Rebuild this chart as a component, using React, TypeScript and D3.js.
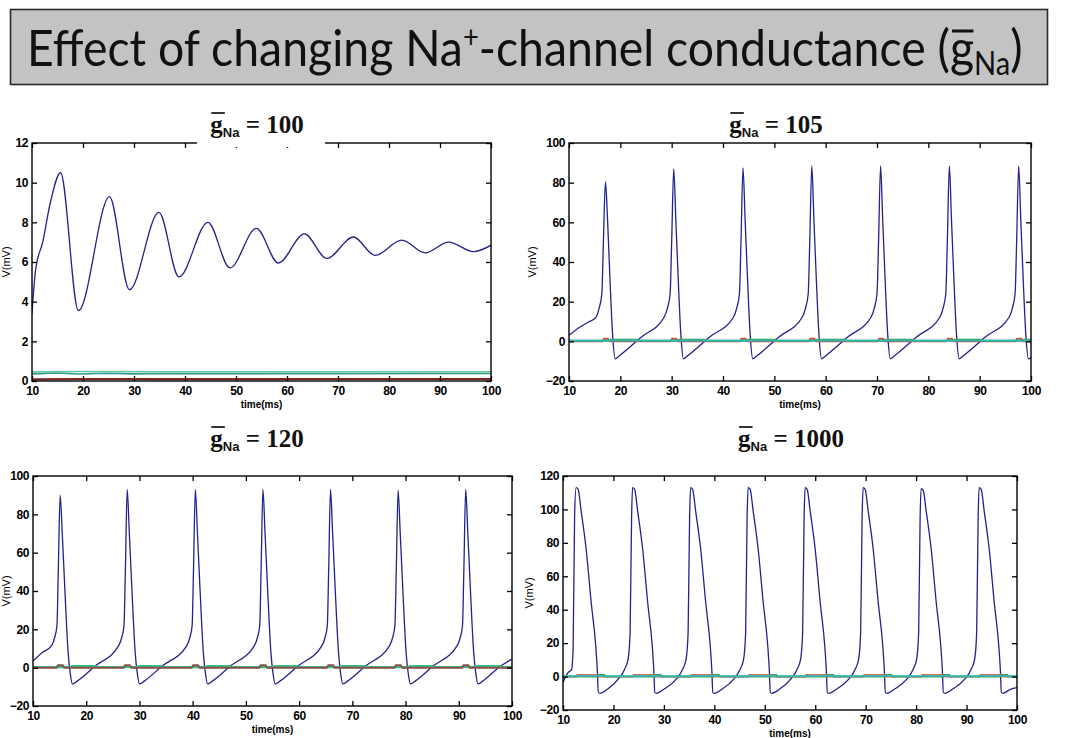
import { useEffect, useRef } from 'react';
import * as d3 from 'd3';

type Pt = [number, number];

// axis ticks
const timeTicks = [10, 20, 30, 40, 50, 60, 70, 80, 90, 100];
const vTicksLow = [0, 2, 4, 6, 8, 10, 12];
const vTicksMid = [-20, 0, 20, 40, 60, 80, 100];
const vTicksHigh = [-20, 0, 20, 40, 60, 80, 100, 120];

const gNaValues = ['100', '105', '120', '1000'];

// membrane potential: [time (ms), V (mV)]
const v100: Pt[] = [
  [10, 3.4], [10.7, 5.6], [12.1, 7.0], [13.6, 9.0], [15.6, 10.5], [19.1, 3.55],
  [25.2, 9.3], [29.1, 4.6], [34.9, 8.5], [38.8, 5.25], [44.5, 8.0], [48.8, 5.7],
  [54.0, 7.7], [58.3, 5.95], [63.4, 7.42], [67.8, 6.18], [73.0, 7.26], [77.3, 6.33],
  [82.5, 7.1], [87.1, 6.46], [91.7, 7.0], [96.6, 6.52], [100, 6.85],
];

const v105: Pt[] = [
  [10, 3], [12, 7], [14, 10],
  [15.2, 12], [15.9, 17], [16.4, 24], [16.7, 50], [17.1, 80.5], [17.5, 62], [18.0, 30], [18.5, 3], [19.0, -8.8], [19.7, -7.5], [24.1, 2.2],
  [28.5, 12], [29.2, 17], [29.7, 24], [30.0, 50], [30.4, 87], [30.8, 62], [31.3, 30], [31.8, 3], [32.3, -8.8], [33.0, -7.5], [37.4, 2.2],
  [42.0, 12], [42.7, 17], [43.2, 24], [43.5, 50], [43.9, 87.5], [44.3, 62], [44.8, 30], [45.3, 3], [45.8, -8.8], [46.5, -7.5], [50.9, 2.2],
  [55.4, 12], [56.1, 17], [56.6, 24], [56.9, 50], [57.3, 88.5], [57.7, 62], [58.2, 30], [58.7, 3], [59.2, -8.8], [59.9, -7.5], [64.3, 2.2],
  [68.8, 12], [69.5, 17], [70.0, 24], [70.3, 50], [70.7, 88.5], [71.1, 62], [71.6, 30], [72.1, 3], [72.6, -8.8], [73.3, -7.5], [77.7, 2.2],
  [82.2, 12], [82.9, 17], [83.4, 24], [83.7, 50], [84.1, 88.5], [84.5, 62], [85.0, 30], [85.5, 3], [86.0, -8.8], [86.7, -7.5], [91.1, 2.2],
  [95.7, 12], [96.4, 17], [96.9, 24], [97.2, 50], [97.6, 88.5], [98.0, 62], [98.5, 30], [99.0, 3], [99.5, -8.8], [100, -8.3],
];

const v120: Pt[] = [
  [10, 3.4], [11.8, 8.0],
  [13.5, 11.5], [14.1, 16], [14.5, 22], [14.75, 50], [15.1, 90], [15.5, 70], [16.0, 40], [16.6, 8], [17.0, -3], [17.4, -8.5], [18.3, -7], [21.6, 0.7],
  [26.1, 11.5], [26.7, 16], [27.1, 22], [27.35, 50], [27.7, 93], [28.1, 70], [28.6, 40], [29.2, 8], [29.6, -3], [30.0, -8.5], [30.9, -7], [34.2, 0.7],
  [38.9, 11.5], [39.5, 16], [39.9, 22], [40.15, 50], [40.5, 93], [40.9, 70], [41.4, 40], [42.0, 8], [42.4, -3], [42.8, -8.5], [43.7, -7], [47.0, 0.7],
  [51.6, 11.5], [52.2, 16], [52.6, 22], [52.85, 50], [53.2, 93], [53.6, 70], [54.1, 40], [54.7, 8], [55.1, -3], [55.5, -8.5], [56.4, -7], [59.7, 0.7],
  [64.3, 11.5], [64.9, 16], [65.3, 22], [65.55, 50], [65.9, 93], [66.3, 70], [66.8, 40], [67.4, 8], [67.8, -3], [68.2, -8.5], [69.1, -7], [72.4, 0.7],
  [77.0, 11.5], [77.6, 16], [78.0, 22], [78.25, 50], [78.6, 92.5], [79.0, 70], [79.5, 40], [80.1, 8], [80.5, -3], [80.9, -8.5], [81.8, -7], [85.1, 0.7],
  [89.7, 11.5], [90.3, 16], [90.7, 22], [90.95, 50], [91.3, 93], [91.7, 70], [92.2, 40], [92.8, 8], [93.2, -3], [93.6, -8.5], [94.5, -7], [97.8, 0.7], [100, 4.5],
];

const v1000: Pt[] = [
  [10, -3.6], [11.0, 2.3], [11.7, 4.3], [12.0, 16], [12.3, 96], [12.6, 113], [13.0, 112], [13.6, 99], [14.6, 76], [15.6, 44], [16.5, 18], [16.8, 4], [17.0, -9.6], [17.3, -10], [18.8, -7.6],
  [20.9, -1.7], [22.2, 4.3], [22.9, 10.3], [23.3, 26], [23.6, 96], [23.8, 113], [24.2, 112], [24.8, 99], [25.8, 76], [26.8, 44], [27.7, 18], [28.0, 4], [28.2, -9.6], [28.5, -10], [30.0, -7.6],
  [32.4, -1.7], [33.7, 4.3], [34.4, 10.3], [34.8, 26], [35.1, 96], [35.3, 113], [35.7, 112], [36.3, 99], [37.3, 76], [38.3, 44], [39.2, 18], [39.5, 4], [39.7, -9.6], [40.0, -10], [41.5, -7.6],
  [43.8, -1.7], [45.1, 4.3], [45.8, 10.3], [46.2, 26], [46.5, 96], [46.7, 113], [47.1, 112], [47.7, 99], [48.7, 76], [49.7, 44], [50.6, 18], [50.9, 4], [51.1, -9.6], [51.4, -10], [52.9, -7.6],
  [55.1, -1.7], [56.4, 4.3], [57.1, 10.3], [57.5, 26], [57.8, 96], [58.0, 113], [58.4, 112], [59.0, 99], [60.0, 76], [61.0, 44], [61.9, 18], [62.2, 4], [62.4, -9.6], [62.7, -10], [64.2, -7.6],
  [66.6, -1.7], [67.9, 4.3], [68.6, 10.3], [69.0, 26], [69.3, 96], [69.5, 113], [69.9, 112], [70.5, 99], [71.5, 76], [72.5, 44], [73.4, 18], [73.7, 4], [73.9, -9.6], [74.2, -10], [75.7, -7.6],
  [78.1, -1.7], [79.4, 4.3], [80.1, 10.3], [80.5, 26], [80.8, 96], [81.0, 112.5], [81.4, 111.5], [82.0, 99], [83.0, 76], [84.0, 44], [84.9, 18], [85.2, 4], [85.4, -9.6], [85.7, -10], [87.2, -7.6],
  [89.6, -1.7], [90.9, 4.3], [91.6, 10.3], [92.0, 26], [92.3, 96], [92.5, 113], [92.9, 112], [93.5, 99], [94.5, 76], [95.5, 44], [96.4, 18], [96.7, 4], [96.9, -9.6], [97.2, -10], [98.7, -7.6], [100, -6.6],
];

// gating variables plotted on the same axes (they sit near zero)
const m100: Pt[] = [[10, 0.08], [20, 0.1], [40, 0.09], [70, 0.1], [100, 0.1]];
const h100: Pt[] = [[10, 0.36], [15, 0.4], [19, 0.35], [25, 0.39], [30, 0.36], [35, 0.38], [40, 0.37], [100, 0.38]];
const n100: Pt[] = [[10, 0.46], [20, 0.48], [40, 0.47], [60, 0.47], [100, 0.47]];

const m105: Pt[] = [
  [10, 0.05], [16.5, 0.05], [16.8, 1.3], [17.6, 1.3], [17.9, 0.05], [29.8, 0.05], [30.1, 1.3], [30.9, 1.3], [31.2, 0.05],
  [43.3, 0.05], [43.6, 1.3], [44.4, 1.3], [44.7, 0.05], [56.7, 0.05], [57.0, 1.3], [57.8, 1.3], [58.1, 0.05],
  [70.1, 0.05], [70.4, 1.3], [71.2, 1.3], [71.5, 0.05], [83.5, 0.05], [83.8, 1.3], [84.6, 1.3], [84.9, 0.05],
  [97.0, 0.05], [97.3, 1.3], [98.1, 1.3], [98.4, 0.05], [100, 0.05],
];
const n105: Pt[] = [
  [10, 0.3], [17.9, 0.3], [18.1, 0.8], [23.4, 0.8], [23.6, 0.3], [31.2, 0.3], [31.4, 0.8], [36.7, 0.8], [36.9, 0.3],
  [44.7, 0.3], [44.9, 0.8], [50.2, 0.8], [50.4, 0.3], [58.1, 0.3], [58.3, 0.8], [63.6, 0.8], [63.8, 0.3],
  [71.5, 0.3], [71.7, 0.8], [77.0, 0.8], [77.2, 0.3], [84.9, 0.3], [85.1, 0.8], [90.4, 0.8], [90.6, 0.3],
  [98.4, 0.3], [98.6, 0.8], [100, 0.8],
];
const h105: Pt[] = [[10, 0.4], [100, 0.4]];

const n120: Pt[] = [
  [10, 0.3], [17.1, 0.3], [17.3, 0.8], [21.6, 0.8], [21.8, 0.3], [29.7, 0.3], [29.9, 0.8], [34.2, 0.8], [34.4, 0.3],
  [42.5, 0.3], [42.7, 0.8], [47.0, 0.8], [47.2, 0.3], [55.2, 0.3], [55.4, 0.8], [59.7, 0.8], [59.9, 0.3],
  [67.9, 0.3], [68.1, 0.8], [72.4, 0.8], [72.6, 0.3], [80.6, 0.3], [80.8, 0.8], [85.1, 0.8], [85.3, 0.3],
  [93.3, 0.3], [93.5, 0.8], [97.8, 0.8], [98.0, 0.3], [100, 0.3],
];
const m120: Pt[] = [
  [10, 0.0], [14.4, 0.0], [14.7, 1.3], [15.6, 1.3], [15.9, 0.0], [27.0, 0.0], [27.3, 1.3], [28.2, 1.3], [28.5, 0.0],
  [39.8, 0.0], [40.1, 1.3], [41.0, 1.3], [41.3, 0.0], [52.5, 0.0], [52.8, 1.3], [53.7, 1.3], [54.0, 0.0],
  [65.2, 0.0], [65.5, 1.3], [66.4, 1.3], [66.7, 0.0], [77.9, 0.0], [78.2, 1.3], [79.1, 1.3], [79.4, 0.0],
  [90.6, 0.0], [90.9, 1.3], [91.8, 1.3], [92.1, 0.0], [100, 0.0],
];

const m1000: Pt[] = [
  [10, 0.0], [12.6, 0.0], [12.8, 1.0], [17.0, 1.0], [17.2, 0.0], [23.8, 0.0], [24.0, 1.0], [28.2, 1.0], [28.4, 0.0],
  [35.3, 0.0], [35.5, 1.0], [39.7, 1.0], [39.9, 0.0], [46.7, 0.0], [46.9, 1.0], [51.1, 1.0], [51.3, 0.0],
  [58.0, 0.0], [58.2, 1.0], [62.4, 1.0], [62.6, 0.0], [69.5, 0.0], [69.7, 1.0], [73.9, 1.0], [74.1, 0.0],
  [81.0, 0.0], [81.2, 1.0], [85.4, 1.0], [85.6, 0.0], [92.5, 0.0], [92.7, 1.0], [96.9, 1.0], [97.1, 0.0], [100, 0.0],
];
const n1000: Pt[] = [
  [10, 0.0], [17.0, 0.0], [17.1, 1.0], [18.2, 1.0], [18.3, 0.0], [28.2, 0.0], [28.3, 1.0], [29.4, 1.0], [29.5, 0.0],
  [39.7, 0.0], [39.8, 1.0], [40.9, 1.0], [41.0, 0.0], [51.1, 0.0], [51.2, 1.0], [52.3, 1.0], [52.4, 0.0],
  [62.4, 0.0], [62.5, 1.0], [63.6, 1.0], [63.7, 0.0], [73.9, 0.0], [74.0, 1.0], [75.1, 1.0], [75.2, 0.0],
  [85.4, 0.0], [85.5, 1.0], [86.6, 1.0], [86.7, 0.0], [96.9, 0.0], [97.0, 1.0], [98.1, 1.0], [98.2, 0.0], [100, 0.0],
];
const h1000: Pt[] = [[10, 0.3], [100, 0.3]];

interface Trace { data: Pt[]; color: string; width: number }

const panels = [
  { v: v100, yTicks: vTicksLow, gates: [
    { data: m100, color: '#7a2424', width: 2.2 },
    { data: h100, color: '#2a9c90', width: 1.6 },
    { data: n100, color: '#63c79c', width: 1.6 },
  ] },
  { v: v105, yTicks: vTicksMid, gates: [
    { data: m105, color: '#c0503a', width: 1.8 },
    { data: n105, color: '#3ea05a', width: 2 },
    { data: h105, color: '#2bb8b8', width: 1.8 },
  ] },
  { v: v120, yTicks: vTicksMid, gates: [
    { data: n120, color: '#2fc08a', width: 2.2 },
    { data: m120, color: '#8a5046', width: 2 },
  ] },
  { v: v1000, yTicks: vTicksHigh, gates: [
    { data: m1000, color: '#d06a5a', width: 1.8 },
    { data: n1000, color: '#3aa060', width: 1.8 },
    { data: h1000, color: '#2bbcbc', width: 1.6 },
  ] },
];

// where each panel sits on the page
const layouts = [
  { left: 32, right: 491, top: 143, bottom: 381, yLabelGap: 25, titleX: 257, titleY: 133, mask: true },
  { left: 569, right: 1031, top: 143, bottom: 381, yLabelGap: 36, titleX: 776, titleY: 133, mask: false },
  { left: 33, right: 512, top: 476, bottom: 706, yLabelGap: 26, titleX: 257, titleY: 447, mask: false },
  { left: 563, right: 1017, top: 476, bottom: 710, yLabelGap: 33, titleX: 791, titleY: 447, mask: false },
];

const Chart = () => {
  const svgRef = useRef<SVGSVGElement>(null);

  useEffect(() => {
    if (!svgRef.current) return;
    const svg = d3.select(svgRef.current);
    svg.selectAll('*').remove();

    // big heading box
    svg.append('rect')
      .attr('x', 10.5).attr('y', 9.5).attr('width', 1037).attr('height', 75)
      .attr('fill', '#c3c3c3').attr('stroke', '#2a2a2a').attr('stroke-width', 1.6);

    const head = svg.append('g');
    const ht = head.append('text')
      .attr('x', 0).attr('y', 66)
      .attr('font-family', 'Lato, "Open Sans", sans-serif')
      .attr('font-size', 51)
      .attr('fill', '#111');
    ht.append('tspan').text('Effect of changing Na');
    ht.append('tspan').attr('font-size', 30).attr('dy', -18).text('+');
    ht.append('tspan').attr('dy', 18).text('-channel conductance (');
    ht.append('tspan').text('g');
    ht.append('tspan').attr('font-size', 32).attr('dy', 9).text('Na');
    ht.append('tspan').attr('dy', -9).text(')');
    const htNode = ht.node() as SVGTextElement;
    const hw = htNode.getComputedTextLength();
    const gIdx = 'Effect of changing Na+-channel conductance ('.length;
    const gExt = htNode.getExtentOfChar(gIdx);
    head.append('line')
      .attr('x1', gExt.x + 2).attr('x2', gExt.x + gExt.width - 1)
      .attr('y1', 31).attr('y2', 31)
      .attr('stroke', '#111').attr('stroke-width', 3);
    head.attr('transform', `translate(27,0) scale(${996 / hw},1)`);

    const line = d3.line<Pt>().curve(d3.curveMonotoneX);

    panels.forEach((p, i) => {
      const L = layouts[i];
      const x = d3.scaleLinear().domain([10, 100]).range([L.left, L.right]);
      const yDom = d3.extent(p.yTicks) as [number, number];
      const y = d3.scaleLinear().domain(yDom).range([L.bottom, L.top]);
      const g = svg.append('g');

      const clipId = `clip-${i}`;
      g.append('clipPath').attr('id', clipId).append('rect')
        .attr('x', L.left).attr('y', L.top)
        .attr('width', L.right - L.left).attr('height', L.bottom - L.top);

      const plot = g.append('g').attr('clip-path', `url(#${clipId})`);
      line.x(d => x(d[0])).y(d => y(d[1]));

      plot.append('path')
        .attr('d', line(p.v) || '')
        .attr('fill', 'none').attr('stroke', '#22228e').attr('stroke-width', 1.3);

      p.gates.forEach((t: Trace) => {
        plot.append('path')
          .attr('d', d3.line<Pt>().x(d => x(d[0])).y(d => y(d[1]))(t.data) || '')
          .attr('fill', 'none').attr('stroke', t.color).attr('stroke-width', t.width);
      });

      // axes, matlab style: ticks on all four sides pointing in
      const styleAxis = (a: d3.Selection<SVGGElement, unknown, null, undefined>) => {
        a.select('.domain').remove();
        a.selectAll('line').attr('stroke', '#000').attr('stroke-width', 1.3);
        a.selectAll('text')
          .attr('font-family', '"Liberation Sans", Arial, sans-serif')
          .attr('font-weight', 'bold').attr('font-size', 12).attr('fill', '#000')
          .attr('letter-spacing', -0.4);
      };
      const bottomAx = g.append('g').attr('transform', `translate(0,${L.bottom})`)
        .call(d3.axisBottom(x).tickValues(timeTicks).tickSize(-5).tickPadding(5).tickFormat(d3.format('d')));
      styleAxis(bottomAx);
      const topAx = g.append('g').attr('transform', `translate(0,${L.top})`)
        .call(d3.axisTop(x).tickValues(timeTicks).tickSize(-5).tickFormat(() => ''));
      styleAxis(topAx);
      const leftAx = g.append('g').attr('transform', `translate(${L.left},0)`)
        .call(d3.axisLeft(y).tickValues(p.yTicks).tickSize(-5).tickPadding(4).tickFormat(d3.format('d')));
      styleAxis(leftAx);
      const rightAx = g.append('g').attr('transform', `translate(${L.right},0)`)
        .call(d3.axisRight(y).tickValues(p.yTicks).tickSize(-5).tickFormat(() => ''));
      styleAxis(rightAx);

      g.append('rect')
        .attr('x', L.left).attr('y', L.top)
        .attr('width', L.right - L.left).attr('height', L.bottom - L.top)
        .attr('fill', 'none').attr('stroke', '#000').attr('stroke-width', 1.4);

      g.append('text')
        .attr('x', (L.left + L.right) / 2).attr('y', L.bottom + 27)
        .attr('text-anchor', 'middle')
        .attr('font-family', '"Liberation Sans", Arial, sans-serif')
        .attr('font-weight', 'bold').attr('font-size', 10)
        .text('time(ms)');

      g.append('text')
        .attr('transform', `translate(${L.left - L.yLabelGap},${(L.top + L.bottom) / 2}) rotate(-90)`)
        .attr('text-anchor', 'middle').attr('dominant-baseline', 'middle')
        .attr('font-family', '"Liberation Sans", Arial, sans-serif')
        .attr('font-size', 11)
        .text('V(mV)');

      // panel heading: g-bar Na = value
      if (L.mask) {
        g.append('rect').attr('x', 197).attr('y', 104).attr('width', 128).attr('height', 43).attr('fill', '#fff');
      }
      const tt = g.append('text')
        .attr('y', L.titleY)
        .attr('font-family', '"Liberation Serif", "Times New Roman", serif')
        .attr('font-weight', 'bold').attr('font-size', 25).attr('fill', '#111');
      tt.append('tspan').text('g');
      tt.append('tspan')
        .attr('font-family', '"Liberation Sans", Arial, sans-serif')
        .attr('font-size', 13).attr('dy', 4).text('Na');
      tt.append('tspan').attr('dy', -4).text(` = ${gNaValues[i]}`);
      const ttNode = tt.node() as SVGTextElement;
      const tw = ttNode.getComputedTextLength();
      tt.attr('x', L.titleX - tw / 2);
      const ge = ttNode.getExtentOfChar(0);
      g.append('line')
        .attr('x1', ge.x + 1).attr('x2', ge.x + ge.width + 2)
        .attr('y1', L.titleY - 20).attr('y2', L.titleY - 20)
        .attr('stroke', '#333').attr('stroke-width', 2);
    });
  }, []);

  return (
    <svg ref={svgRef} width={1068} height={738}
      style={{ position: 'absolute', left: 0, top: 0, background: '#fff' }} />
  );
};

const App = () => <Chart />;

export default App;
